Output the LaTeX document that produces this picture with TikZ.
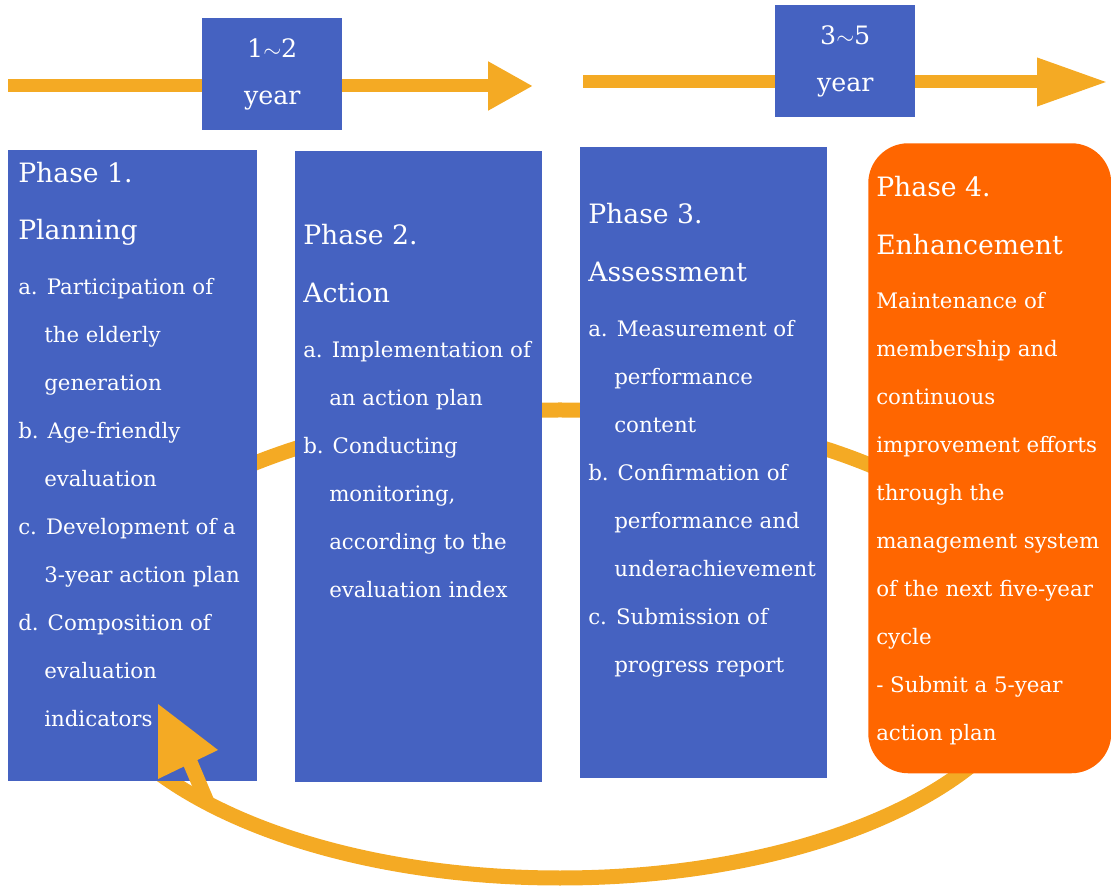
\documentclass[tikz,border=0pt]{standalone}
\usepackage{fontspec}
\setmainfont{DejaVu Serif}
\usetikzlibrary{arrows.meta}
\definecolor{boxblue}{RGB}{69,98,193}
\definecolor{flowgold}{RGB}{244,170,36}
\definecolor{phaseorange}{RGB}{255,102,0}
\newcommand\ttl[1]{{\fontsize{20}{36}\selectfont #1}}
\newcommand\ind{\hspace*{19.5pt}}
\begin{document}
\begin{tikzpicture}[x=0.75pt, y=-0.75pt,
		flow/.style={draw=flowgold, line width=11.25pt},
		phasebox/.style={fill=boxblue, inner sep=0pt, anchor=north west, minimum height=473.25pt},
		yearbox/.style={fill=boxblue, text=white, inner sep=0pt, anchor=north west, align=center, minimum width=105pt, minimum height=84pt, font=\fontsize{19}{35.25}\selectfont},
		phasetext/.style={text=white, anchor=north west, align=left, inner sep=0pt, font=\fontsize{16}{36}\selectfont}]
		\useasboundingbox (0, 0) rectangle (1111, 887);
		\coordinate (loopcentre) at (560, 644);
		\draw [flow] (loopcentre) ellipse [x radius=481, y radius=234];
		\coordinate (lstart) at (8, 86);
		\coordinate (lend) at (533, 86);
		\coordinate (rstart) at (583, 82);
		\coordinate (rend) at (1108, 82);
		\draw [flow, line width=9.75pt, -{Triangle[length=33.75pt, width=34.5pt]}] (lstart) -- (lend);
		\draw [flow, line width=9.75pt, -{Triangle[length=53.25pt, width=33.75pt]}] (rstart) -- (rend);
		\node [yearbox] (firstyears) at (202, 18) {1$\sim$2\\year};
		\node [yearbox] (lateryears) at (775, 5) {3$\sim$5\\year};
		\node [phasebox, minimum width=186.75pt] (planbox) at (8, 150) {};
		\node [phasebox, minimum width=185.25pt] (actbox) at (295, 151) {};
		\node [phasebox, minimum width=185.25pt] (assessbox) at (580, 147) {};
		\node [phasebox, fill=phaseorange, rounded corners=30pt, minimum width=182.25pt, minimum height=472.5pt] (enhancebox) at (868, 143) {};
		\node [phasetext] (plantext) at (18, 162) {\ttl{Phase 1.}\\[6.75pt]\ttl{Planning}\\[5.25pt]a. Participation of\\\ind the elderly\\\ind generation\\b. Age-friendly\\\ind evaluation\\c. Development of a\\\ind 3-year action plan\\d. Composition of\\\ind evaluation\\\ind indicators};
		\node [phasetext] (acttext) at (303, 224) {\ttl{Phase 2.}\\[7.5pt]\ttl{Action}\\[5.25pt]a. Implementation of\\\ind an action plan\\b. Conducting\\\ind monitoring,\\\ind according to the\\\ind evaluation index};
		\node [phasetext] (assesstext) at (588, 203) {\ttl{Phase 3.}\\[7.5pt]\ttl{Assessment}\\[5.25pt]a. Measurement of\\\ind performance\\\ind content\\b. Confirmation of\\\ind performance and\\\ind underachievement\\c. Submission of\\\ind progress report};
		\node [phasetext] (enhancetext) at (876, 176) {\ttl{Phase 4.}\\[7.5pt]\ttl{Enhancement}\\[4.5pt]Maintenance of\\membership and\\continuous\\improvement efforts\\through the\\management system\\of the next five-year\\cycle\\- Submit a 5-year\\action plan};
		\coordinate (loopfoot) at (207, 802);
		\coordinate (loophead) at (190, 762);
		\draw [flow] (loopfoot) -- (loophead);
		\fill [flowgold] (158, 704) -- (218, 750) -- (158, 779) -- cycle;
	\end{tikzpicture}
\end{document}
